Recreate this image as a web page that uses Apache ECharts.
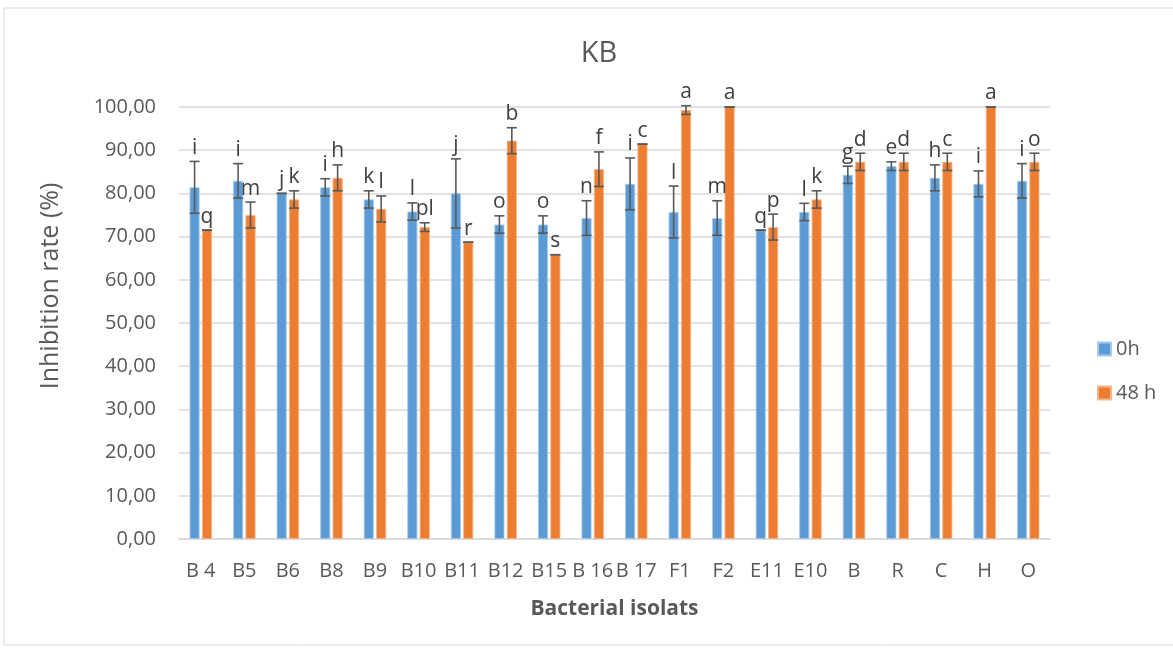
<!DOCTYPE html>
<html><head><meta charset="utf-8">
<script src="https://cdn.jsdelivr.net/npm/echarts@6/dist/echarts.min.js"></script>
<style>html,body{margin:0;padding:0;background:#fff}#c{width:1173px;height:653px}</style>
</head><body><div id="c"></div>
<script>
const categories = ['B 4','B5','B6','B8','B9','B10','B11','B12','B15','B 16','B 17','F1','F2','E11','E10','B','R','C','H','O'];
const values0h  = [81.4, 82.9, 80.0, 81.4, 78.6, 75.8, 80.0, 72.8, 72.8, 74.3, 82.2, 75.7, 74.3, 71.5, 75.7, 84.3, 86.3, 83.6, 82.2, 82.9];
const errors0h  = [6, 4, 0, 2, 2, 2, 8, 2, 2, 4, 6, 6, 4, 0, 2, 2, 1, 3, 3, 4];
const letters0h = ['i','i','j','i','k','l','j','o','o','n','i','l','m','q','l','g','e','h','i','i'];
const values48h  = [71.5, 75.0, 78.6, 83.6, 76.4, 72.2, 68.7, 92.2, 65.8, 85.6, 91.4, 99.3, 100.0, 72.2, 78.6, 87.3, 87.3, 87.3, 100.0, 87.3];
const errors48h  = [0, 3, 2, 3, 3, 1, 0, 3, 0, 4, 0, 1, 0, 3, 2, 2, 2, 2, 0, 2];
const letters48h = ['q','m','k','h','l','pl','r','b','s','f','c','a','a','p','k','d','d','c','a','o'];
const yTicks = {min: 0, max: 100, interval: 10};

const FONT = '"Open Sans"';
const TXT = '#595959';
const chart = echarts.init(document.getElementById('c'), null, {renderer: 'canvas'});

function errSeries(vals, errs, letters, dx) {
  return {
    type: 'custom',
    silent: true,
    z: 10,
    clip: false,
    encode: {x: 0, y: 1},
    data: vals.map((v, i) => [i, v, errs[i]]),
    renderItem: function (params, api) {
      const i = api.value(0), v = api.value(1), e = api.value(2);
      const top = api.coord([i, v + e]);
      const bot = api.coord([i, v - e]);
      const x = top[0] + dx;
      const st = {stroke: '#595959', lineWidth: 1.6};
      return {type: 'group', children: [
        {type: 'line', shape: {x1: x, y1: top[1], x2: x, y2: bot[1]}, style: st},
        {type: 'line', shape: {x1: x - 5, y1: top[1], x2: x + 5, y2: top[1]}, style: st},
        {type: 'line', shape: {x1: x - 5, y1: bot[1], x2: x + 5, y2: bot[1]}, style: st},
        {type: 'text', style: {x: x, y: top[1] - 3, text: letters[params.dataIndex], fill: '#404040',
          font: '21px ' + FONT, textAlign: 'center', textVerticalAlign: 'bottom'}}
      ]};
    }
  };
}

const option = {
  animation: false,
  backgroundColor: '#fff',
  textStyle: {fontFamily: FONT},
  graphic: [
    {type: 'rect', shape: {x: 4, y: 8, width: 1180, height: 637}, style: {fill: 'none', stroke: '#d9d9d9', lineWidth: 1}, silent: true, z: -1},
    {type: 'text', x: 51, y: 286, rotation: Math.PI / 2, silent: true,
      style: {text: 'Inhibition rate (%)', font: '25px ' + FONT, fill: TXT, textAlign: 'center', textVerticalAlign: 'middle'}}
  ],
  title: {text: 'KB', left: 594, top: 34, textAlign: 'center',
    textStyle: {fontFamily: FONT, fontSize: 29, fontWeight: 'normal', color: TXT}},
  legend: {
    data: ['0h', '48 h'], orient: 'vertical', left: 1092, top: 334,
    itemWidth: 13, itemHeight: 13, itemGap: 24, icon: 'rect',
    textStyle: {fontFamily: FONT, fontSize: 20, color: TXT}
  },
  grid: {left: 179, right: 123, top: 107, bottom: 114, containLabel: false},
  xAxis: {
    type: 'category', data: categories,
    axisLine: {lineStyle: {color: '#d9d9d9', width: 1.5}},
    axisTick: {show: false},
    axisLabel: {fontFamily: FONT, fontSize: 20, color: TXT, margin: 22, interval: 0},
    name: 'Bacterial isolats', nameLocation: 'middle', nameGap: 60,
    nameTextStyle: {fontFamily: FONT, fontSize: 21, fontWeight: 'bold', color: TXT}
  },
  yAxis: {
    type: 'value', min: yTicks.min, max: yTicks.max, interval: yTicks.interval,
    axisLine: {show: false}, axisTick: {show: false},
    splitLine: {lineStyle: {color: '#d9d9d9', width: 1.5}},
    axisLabel: {fontFamily: FONT, fontSize: 20, color: TXT, margin: 23,
      formatter: v => v.toFixed(2).replace('.', ',')}
  },
  series: [
    {name: '0h', type: 'bar', data: values0h, barWidth: 10, barGap: '24%',
      itemStyle: {color: '#5B9BD5', borderColor: '#a9c9ea', borderWidth: 0.8}},
    {name: '48 h', type: 'bar', data: values48h, barWidth: 10, barGap: '24%',
      itemStyle: {color: '#ED7D31', borderColor: '#f5b58a', borderWidth: 0.8}},
    errSeries(values0h, errors0h, letters0h, -6.2),
    errSeries(values48h, errors48h, letters48h, 6.2)
  ]
};
chart.setOption(option);
</script></body></html>
